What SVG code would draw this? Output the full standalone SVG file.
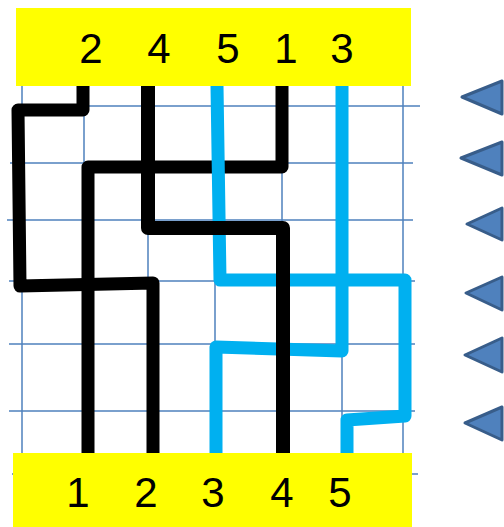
<svg xmlns="http://www.w3.org/2000/svg" width="504" height="527" viewBox="0 0 504 527">
<style>
.grid{stroke:#4f81bd;stroke-width:1.5;fill:none}
.box{fill:#ffff00}
.lbl{font-family:"Liberation Sans",Arial,sans-serif;font-size:42px;fill:#000;text-anchor:middle}
.wire{fill:none;stroke-width:13;stroke-linejoin:round;stroke-linecap:butt}
.blk{stroke:#000}
.blu{stroke:#00b0f0}
.thick{stroke-width:14}
.tri{fill:#4f81bd;stroke:#385d8a;stroke-width:3;stroke-linejoin:round}
</style>
<g id="grid">
<path class="grid" d="M20 106H420 M10 163H413 M7 220H413 M9 281H415 M9 344H415 M9 411H415 M12 474H418"/>
<path class="grid" d="M22 86V453 M84 86V453 M148 86V453 M215 86V453 M282 86V453 M342 86V453 M403 86V472"/>
</g>
<g id="top-box">
<rect class="box" x="16" y="8" width="395" height="78"/>
<text class="lbl" x="91" y="63">2</text>
<text class="lbl" x="159" y="63">4</text>
<text class="lbl" x="228" y="63">5</text>
<text class="lbl" x="286" y="63">1</text>
<text class="lbl" x="342" y="63">3</text>
</g>
<g id="bottom-box">
<rect class="box" x="13" y="453" width="399" height="74"/>
<text class="lbl" x="78" y="507">1</text>
<text class="lbl" x="146" y="507">2</text>
<text class="lbl" x="213" y="507">3</text>
<text class="lbl" x="282" y="507">4</text>
<text class="lbl" x="340" y="507">5</text>
</g>
<g id="connectors">
<path class="wire blk" d="M83 86V110H18L20 286L153 283V453"/>
<path class="wire blk" d="M282 86V167H88V453"/>
<path class="wire blu" d="M217 86L220 280H405V416L347 420V453"/>
<path class="wire blu" d="M342 86V351L216 347V453"/>
<path class="wire blk thick" d="M148 86V228H283V453"/>
</g>
<g id="arrows">
<polygon class="tri" points="462,97 502,81 502,114"/>
<polygon class="tri" points="461,158 502,142 502,175"/>
<polygon class="tri" points="467,224 502,208 502,240"/>
<polygon class="tri" points="466,293 502,277 502,310"/>
<polygon class="tri" points="465,355 502,338 502,372"/>
<polygon class="tri" points="465,423 502,407 502,440"/>
</g>
</svg>
